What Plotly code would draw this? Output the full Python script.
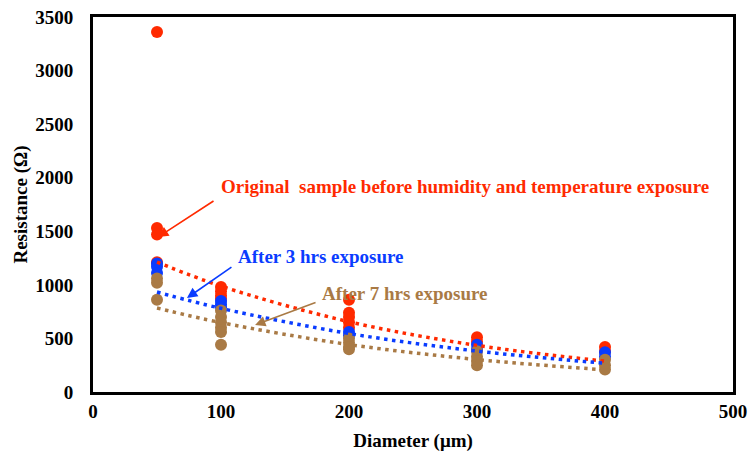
import plotly.graph_objects as go

# Measured points
red_x = [50, 50, 50, 50, 100, 100, 100, 100, 200, 200, 200, 200, 200, 300, 300, 400, 400]
red_y = [3360, 1530, 1470, 1210, 980, 940, 900, 870, 860, 740, 700, 650, 600, 510, 470, 420, 380]

blue_x = [50, 50, 50, 100, 100, 100, 200, 200, 300, 300, 400, 400]
blue_y = [1200, 1170, 1110, 850, 820, 790, 560, 530, 440, 400, 370, 330]

brown_x = [50, 50, 50, 100, 100, 100, 100, 100, 100, 200, 200, 200, 200, 300, 300, 300, 300, 400, 400, 400]
brown_y = [1060, 1020, 860, 760, 700, 650, 600, 560, 440, 500, 460, 420, 400, 380, 330, 290, 250, 300, 250, 210]

# Trendline values read at diameters
trend_x = [50, 100, 200, 300, 400]
red_trend = [1213, 988, 656, 435, 288]
blue_trend = [933, 781, 546, 382, 268]
brown_trend = [784, 648, 443, 303, 207]

RED = "#FF2A00"
BLUE = "#0A3CFF"
BROWN = "#A97A45"
FONT = "Times New Roman, Liberation Serif, DejaVu Serif, serif"

fig = go.Figure()
for xs, ys, c in [(red_x, red_y, RED), (blue_x, blue_y, BLUE), (brown_x, brown_y, BROWN)]:
    fig.add_trace(go.Scatter(x=xs, y=ys, mode="markers",
                             marker=dict(color=c, size=12, line=dict(width=0)),
                             showlegend=False))
for ys, c in [(red_trend, RED), (blue_trend, BLUE), (brown_trend, BROWN)]:
    fig.add_trace(go.Scatter(x=trend_x, y=ys, mode="lines",
                             line=dict(color=c, width=3.5, dash="3.5px,4.5px", shape="spline"),
                             showlegend=False))

axis_common = dict(showline=True, linecolor="black", linewidth=3, mirror=True,
                   showgrid=False, zeroline=False, ticks="", automargin=False,
                   tickfont=dict(family=FONT, size=19, color="black"),
                   tickprefix="<b>", ticksuffix="</b>")

fig.update_xaxes(range=[0, 500], dtick=100, **axis_common,
                 title=dict(text="<b>Diameter (μm)</b>", font=dict(family=FONT, size=19, color="black"), standoff=13))
fig.update_yaxes(range=[0, 3500], dtick=500, **axis_common, ticklabelstandoff=13,
                 title=dict(text="<b>Resistance (Ω)</b>", font=dict(family=FONT, size=19, color="black"), standoff=3))
fig.update_layout(
    width=748, height=456,
    margin=dict(l=93, r=15, t=17, b=64),
    plot_bgcolor="white", paper_bgcolor="white",
    font=dict(family=FONT, size=16, color="black"),
)

# Arrows
for (x, y, ax, ay, c) in [(50.8, 1446, 57, -37, RED), (73.4, 877, 46, -32, BLUE), (126.6, 625, 62, -23, BROWN)]:
    fig.add_annotation(x=x, y=y, ax=ax, ay=ay, text="", showarrow=True,
                       arrowhead=2, arrowsize=1.3, arrowwidth=1.6, arrowcolor=c)

# Labels
for (x, y, t, c) in [(290.6, 1922, "Original  sample before humidity and temperature exposure", RED),
                     (178, 1269, "After 3 hrs exposure", BLUE),
                     (244, 924, "After 7 hrs exposure", BROWN)]:
    fig.add_annotation(x=x, y=y, text="<b>" + t + "</b>", showarrow=False,
                       font=dict(family=FONT, size=19, color=c))

fig.write_html("out.html", config={"displayModeBar": False},
               post_script="document.body.style.margin='0';document.body.style.padding='0';")
